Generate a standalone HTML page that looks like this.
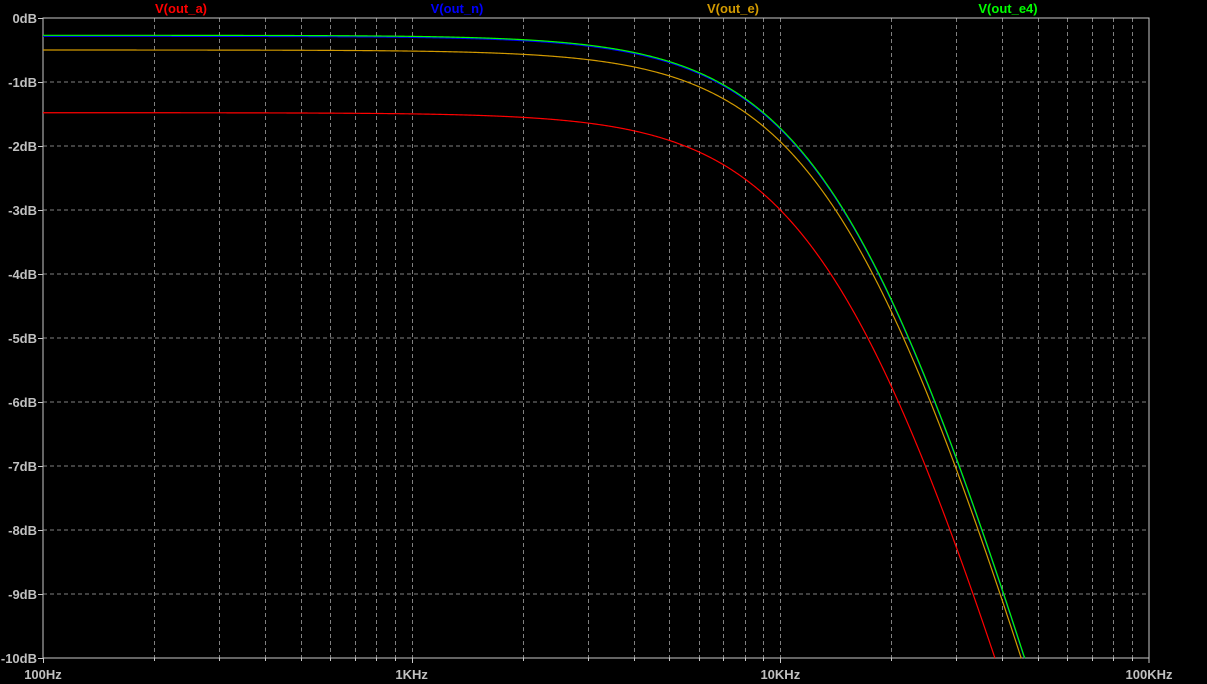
<!DOCTYPE html>
<html><head><meta charset="utf-8"><style>
html,body{margin:0;padding:0;background:#000;width:1207px;height:684px;overflow:hidden}
svg{display:block}
text{font-family:"Liberation Sans",Arial,sans-serif;font-weight:bold}
</style></head><body>
<svg id="s" width="1207" height="684" xmlns="http://www.w3.org/2000/svg">
<g id="grid"></g>
<rect x="43" y="18" width="1106" height="640" fill="none" stroke="#c8c8c8" stroke-width="1"/>
<g id="ticks"></g>
<g id="curves" fill="none" stroke-width="1.2"></g>
<text x="181" y="13" fill="#ff0000" font-size="13" text-anchor="middle">V(out_a)</text>
<text x="457" y="13" fill="#0000ff" font-size="13" text-anchor="middle">V(out_n)</text>
<text x="733" y="13" fill="#d29a00" font-size="13" text-anchor="middle">V(out_e)</text>
<text x="1008" y="13" fill="#00ff00" font-size="13" text-anchor="middle">V(out_e4)</text>
</svg>
<script>
var L=43,T=18,R=1149,B=658,D=(R-L)/3,PY=64;
var ns="http://www.w3.org/2000/svg";
function el(p,n,a,t){var e=document.createElementNS(ns,n);for(var k in a)e.setAttribute(k,a[k]);if(t)e.textContent=t;document.getElementById(p).appendChild(e);return e;}
function X(f){return L+(Math.log10(f)-2)*D;}
for(var i=0;i<=10;i++){var y=T+i*PY;
 if(i>0&&i<10)el("grid","line",{x1:L,y1:y,x2:R,y2:y,stroke:"#808080","stroke-dasharray":"4,3"});
 el("ticks","line",{x1:L-5,y1:y+0.5,x2:L,y2:y+0.5,stroke:"#c8c8c8"});
 el("ticks","text",{x:L-6,y:y+5,fill:"#c0c0c0","font-size":"13","text-anchor":"end"},(i==0?"0":"-"+i)+"dB");
}
var labs=["100Hz","1KHz","10KHz","100KHz"];
for(var d=0;d<3;d++){for(var m=1;m<10;m++){var f=100*Math.pow(10,d)*m;var x=Math.round(X(f))+0.5;
 if(m>1||d>0)el("grid","line",{x1:x,y1:T,x2:x,y2:B,stroke:"#808080","stroke-dasharray":"4,3"});
 el("ticks","line",{x1:x,y1:B,x2:x,y2:B+(m==1?5:3),stroke:"#c8c8c8"});}}
for(var d=0;d<4;d++){var x=L+d*D;el("ticks","text",{x:x,y:679,fill:"#c0c0c0","font-size":"13","text-anchor":"middle"},labs[d]);}
el("ticks","line",{x1:R,y1:B,x2:R,y2:B+5,stroke:"#c8c8c8"});
function curve(dc,fc,col,dy){var p="";for(var x=L;x<=R;x+=1){var f=Math.pow(10,2+(x-L)/D);
 var db=dc-10*Math.log10(1+(f/fc)*(f/fc));var y=T-db*PY+dy;if(y>B){
 p+=(p?"L":"M")+x.toFixed(1)+","+B;break;}
 p+=(p?"L":"M")+x.toFixed(1)+","+y.toFixed(2);}
 el("curves","path",{d:p,stroke:col});}
curve(-1.48,15450,"#ff0000",0);
curve(-0.50,16000,"#d29a00",0);
curve(-0.27,15870,"#0000ff",1);
curve(-0.27,15870,"#00ff00",0);
</script>
</body></html>
